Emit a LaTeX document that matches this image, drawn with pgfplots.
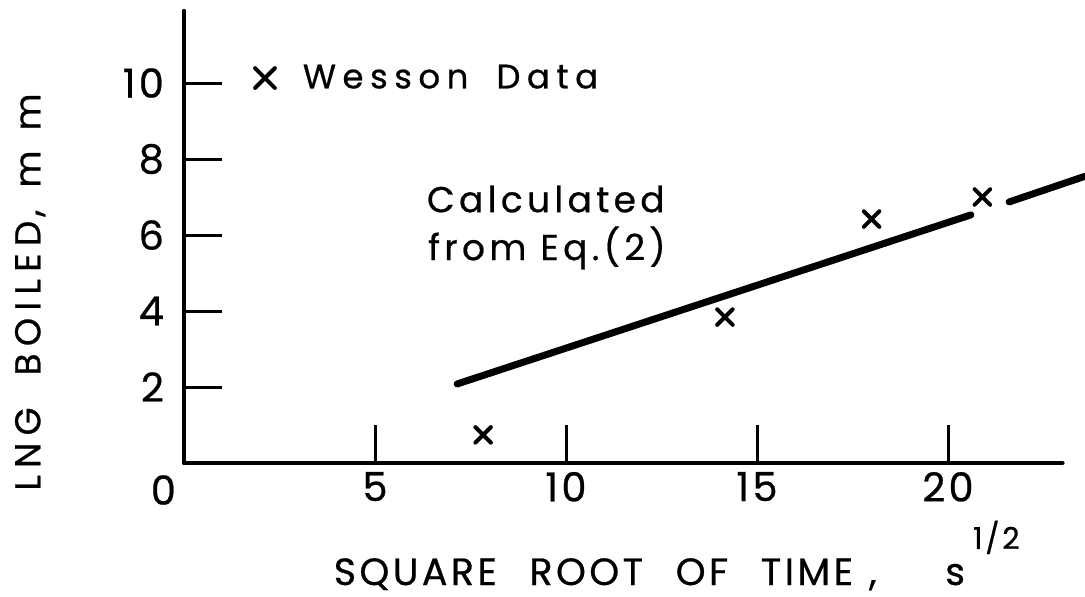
\documentclass[border=0pt]{standalone}
\usepackage{fontspec}
\setmainfont{Poppins}[LetterSpace=8, FakeBold=0.6]
\newfontfamily\xlblfont{Poppins}[LetterSpace=9, WordSpace=2.4, FakeBold=0.6]
\newfontfamily\ylblfont{Poppins}[LetterSpace=20, FakeBold=0.6]
\newfontfamily\notefont{Poppins}[LetterSpace=12, FakeBold=0.6]
\newfontfamily\legfont{Poppins}[LetterSpace=19, FakeBold=0.6]
\usepackage{pgfplots}
\pgfplotsset{compat=1.18}

\begin{document}
\begin{tikzpicture}
\begin{axis}[
  anchor=origin, at={(0,0)},
  x=19.1pt, y=19pt,
  xmin=0, xmax=23, ymin=0, ymax=11.9,
  axis x line=bottom, axis y line=left,
  axis line style={-, line width=2pt, line cap=round},
  clip=false,
  tick align=inside,
  major tick length=19pt,
  tick style={line width=1.5pt, black},
  xtick={5,10,15,20},
  ytick={2,4,6,8,10},
  extra y ticks={0},
  extra y tick style={major tick length=0pt, tick label style={yshift=-13.5pt, xshift=6pt}},
  /pgf/number format/assume math mode=true,
  tick label style={font=\fontsize{20}{22}\selectfont},
  yticklabel style={xshift=-6.5pt},
  xticklabel style={yshift=-1pt},
  xlabel={\xlblfont SQUARE ROOT OF TIME\hspace{8pt}, \hspace{18pt}s\hspace{4pt}\raisebox{0.95em}{\fontsize{15}{15}\selectfont 1/2}},
  xlabel style={at={(axis description cs:0.170,0)}, anchor=base west, yshift=-61pt,
    font=\fontsize{19}{22}\selectfont, inner sep=0pt},
  ylabel={\ylblfont LNG\hspace{16pt}BOILED\hspace{2pt},\hspace{11pt}m\hspace{10pt}m},
  ylabel style={at={(axis description cs:-0.175,-0.062)}, anchor=west, inner sep=0pt,
    font=\fontsize{18}{22}\selectfont},
  legend style={draw=none, fill=none, at={(axis cs:1.85,10.13)}, anchor=west, inner sep=0pt},
  legend image post style={mark size=7pt},
  legend cell align=left,
]
% Wesson measurements
\addplot[only marks, mark=x, mark size=5.5pt, mark options={line width=2pt, line cap=round}, black]
  coordinates {(7.83,0.74) (14.16,3.84) (18.0,6.42) (20.9,7.0)};
\addlegendentry{\fontsize{17}{20}\selectfont\legfont\hspace{12pt}Wesson\hspace{14pt}Data}
% Eq. (2), broken around the last measurement
\addplot[line width=3.5pt, line cap=round, black, forget plot]
  coordinates {(7.15,2.08) (20.6,6.53)};
\addplot[line width=3.5pt, line cap=round, black, forget plot]
  coordinates {(21.6,6.87) (23.6,7.55)};
\node[anchor=base west, inner sep=0pt, font=\fontsize{18}{24}\selectfont\notefont]
  at (axis cs:6.35,6.6) {Calculated};
\node[anchor=base west, inner sep=0pt, font=\fontsize{18}{24}\selectfont\notefont]
  at (axis cs:6.38,5.34) {from Eq.(2)};
\end{axis}
\pgfresetboundingbox
\path (-92pt,-66.5pt) rectangle (450.5pt,231.5pt);
\end{tikzpicture}
\end{document}
